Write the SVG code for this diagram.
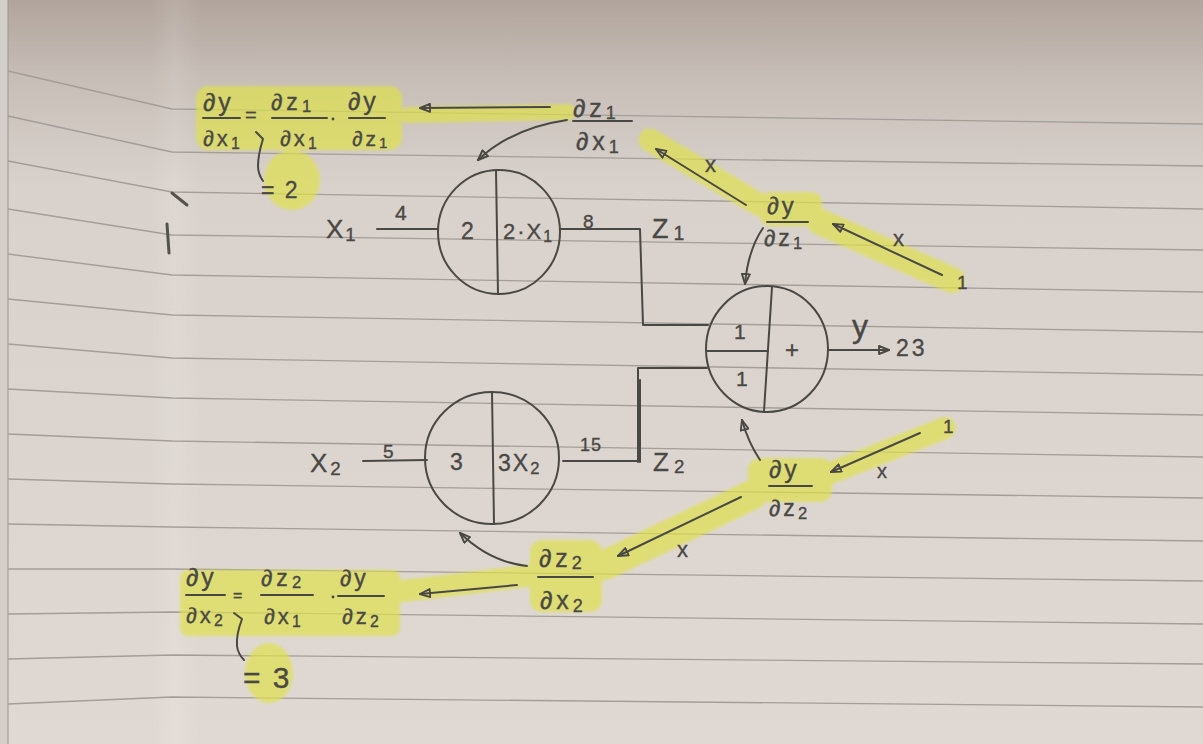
<svg xmlns="http://www.w3.org/2000/svg" width="1203" height="744" viewBox="0 0 1203 744">
<defs>
  <linearGradient id="paper" x1="0" y1="0" x2="0" y2="1">
    <stop offset="0" stop-color="#b1a49c"/>
    <stop offset="0.1" stop-color="#c6bdb6"/>
    <stop offset="0.25" stop-color="#d9d2cc"/>
    <stop offset="1" stop-color="#e0d9d3"/>
  </linearGradient>
  <linearGradient id="fold" x1="0" y1="0" x2="1" y2="0">
    <stop offset="0" stop-color="#ffffff" stop-opacity="0"/>
    <stop offset="0.5" stop-color="#ffffff" stop-opacity="0.1"/>
    <stop offset="1" stop-color="#ffffff" stop-opacity="0"/>
  </linearGradient>
  <filter id="soft" x="-10%" y="-10%" width="120%" height="120%">
    <feGaussianBlur stdDeviation="1.8"/>
  </filter>
  <marker id="tri" viewBox="0 0 12 10" refX="11" refY="5" markerWidth="12" markerHeight="10" markerUnits="userSpaceOnUse" orient="auto">
    <path d="M1,1 L11,5 L1,9 Z" fill="none" stroke="#4a4844" stroke-width="1.9" stroke-linejoin="round"/>
  </marker>
</defs>
<style>
  .t{font-family:"Liberation Sans","DejaVu Sans",sans-serif;fill:#4a4844;stroke:#4a4844;stroke-width:0.35;}
  .ink{fill:none;stroke:#4a4844;stroke-width:2;stroke-linecap:round;stroke-linejoin:round}
  .arr{marker-end:url(#tri)}
  .rule{fill:none;stroke:#a49d98;stroke-width:1.3}
  .hl{fill:none;stroke:#dfe14e;stroke-linecap:round;stroke-linejoin:round}
  .hlf{fill:#dfe14e}
  .sub{font-size:0.72em}
</style>

<!-- paper -->
<g id="paper-bg">
  <rect x="0" y="0" width="1203" height="744" fill="url(#paper)"/>
  <rect x="0" y="0" width="8" height="744" fill="#d3cfcb"/>
  <line x1="8" y1="0" x2="8" y2="744" stroke="#9c9590" stroke-width="1"/>
  <rect x="150" y="0" width="50" height="744" fill="url(#fold)"/>
  <g id="rules">
    <polyline class="rule" points="8,71 172,109 1203,124"/>
    <polyline class="rule" points="8,116 172,152 1203,166"/>
    <polyline class="rule" points="8,161 172,192 1203,209"/>
    <polyline class="rule" points="8,209 172,235 1203,250"/>
    <polyline class="rule" points="8,254 172,275 1203,292"/>
    <polyline class="rule" points="8,299 172,315 1203,332"/>
    <polyline class="rule" points="8,344 172,358 1203,375"/>
    <polyline class="rule" points="8,389 172,398 1203,415"/>
    <polyline class="rule" points="8,434 172,441 1203,457"/>
    <polyline class="rule" points="8,479 172,484 1203,498"/>
    <polyline class="rule" points="8,524 172,527 1203,541"/>
    <polyline class="rule" points="8,569 172,569 1203,581"/>
    <polyline class="rule" points="8,614 172,612 1203,624"/>
    <polyline class="rule" points="8,659 172,655 1203,664"/>
    <polyline class="rule" points="8,704 172,697 1203,707"/>
  </g>
  <path d="M172,193 L187,205" stroke="#55524e" stroke-width="3" stroke-linecap="round" fill="none"/>
  <path d="M167,224 L169,253" stroke="#55524e" stroke-width="3" stroke-linecap="round" fill="none"/>
</g>

<!-- highlighter -->
<g id="highlights" opacity="0.7" filter="url(#soft)">
  <rect class="hlf" x="196" y="86" width="206" height="64" rx="12"/>
  <ellipse class="hlf" cx="292" cy="180" rx="28" ry="30"/>
  <path class="hl" d="M408,115 L568,112" stroke-width="16"/>
  <path class="hl" d="M650,140 L760,205" stroke-width="23"/>
  <rect class="hlf" x="760" y="192" width="62" height="34" rx="10"/>
  <path class="hl" d="M820,222 L952,280" stroke-width="26"/>
  <path class="hl" d="M945,428 L828,474" stroke-width="22"/>
  <rect class="hlf" x="748" y="458" width="84" height="44" rx="12"/>
  <path class="hl" d="M752,495 L605,565" stroke-width="30"/>
  <rect class="hlf" x="530" y="540" width="72" height="72" rx="12"/>
  <path class="hl" d="M535,575 L395,592" stroke-width="22"/>
  <rect class="hlf" x="180" y="570" width="220" height="66" rx="8"/>
  <ellipse class="hlf" cx="269" cy="673" rx="24" ry="30"/>
</g>

<!-- connectors -->
<g id="connectors">
  <path class="ink arr" d="M550,107 L420,108"/>
  <path class="ink arr" d="M567,120 Q512,128 478,160"/>
  <path class="ink arr" d="M746,205 L656,149"/>
  <path class="ink arr" d="M942,275 L833,224"/>
  <path class="ink arr" d="M763,228 Q748,250 745,284"/>
  <path class="ink" d="M377,229 L438,229"/>
  <path class="ink" d="M561,229 L640,229 L643,325 L708,325"/>
  <path class="ink" d="M707,368 L638,368 L638,462"/>
  <path class="ink" d="M563,461 L637,461"/>
  <path class="ink" d="M640,380 L640,462"/>
  <path class="ink" d="M363,461 L427,460"/>
  <path class="ink arr" d="M829,350 L889,350"/>
  <path class="ink arr" d="M760,460 Q748,442 742,420"/>
  <path class="ink arr" d="M920,433 L831,472"/>
  <path class="ink arr" d="M741,497 L618,556"/>
  <path class="ink arr" d="M527,566 Q490,562 460,533"/>
  <path class="ink arr" d="M517,585 L420,594"/>
</g>

<!-- node 1 : 2 * x1 -->
<g id="node-mul1">
  <ellipse class="ink" cx="499" cy="232" rx="61" ry="62"/>
  <path class="ink" d="M496,170 L498,294"/>
  <text class="t" x="461" y="239" font-size="23">2</text>
  <text class="t" x="503" y="239" font-size="22" letter-spacing="2">2·X<tspan class="sub" dy="3">1</tspan></text>
  <text class="t" x="326" y="238" font-size="26" letter-spacing="2">X<tspan class="sub" dy="3">1</tspan></text>
  <text class="t" x="395" y="220" font-size="21">4</text>
  <text class="t" x="583" y="228" font-size="19">8</text>
  <text class="t" x="652" y="238" font-size="27" letter-spacing="5">Z<tspan class="sub" dy="2">1</tspan></text>
</g>

<!-- node 2 : 3 * x2 -->
<g id="node-mul2">
  <ellipse class="ink" cx="492" cy="458" rx="67" ry="66"/>
  <path class="ink" d="M492,392 L494,524"/>
  <text class="t" x="450" y="470" font-size="23">3</text>
  <text class="t" x="498" y="471" font-size="23" letter-spacing="2">3X<tspan class="sub" dy="3">2</tspan></text>
  <text class="t" x="310" y="472" font-size="26" letter-spacing="3">X<tspan class="sub" dy="3">2</tspan></text>
  <text class="t" x="383" y="458" font-size="19">5</text>
  <text class="t" x="580" y="451" font-size="18" letter-spacing="1">15</text>
  <text class="t" x="653" y="471" font-size="26" letter-spacing="5">Z<tspan class="sub" dy="2">2</tspan></text>
</g>

<!-- node 3 : plus -->
<g id="node-plus">
  <ellipse class="ink" cx="767" cy="349" rx="61" ry="63"/>
  <path class="ink" d="M772,287 L764,411"/>
  <path class="ink" d="M707,351 L768,351"/>
  <text class="t" x="734" y="339" font-size="21">1</text>
  <text class="t" x="736" y="386" font-size="21">1</text>
  <text class="t" x="785" y="358" font-size="24">+</text>
  <text class="t" x="852" y="337" font-size="32">y</text>
  <text class="t" x="896" y="356" font-size="23" letter-spacing="3">23</text>
</g>

<!-- gradient dy/dz1 -->
<g id="grad-dy-dz1">
  <text class="t" x="767" y="214" font-size="24" letter-spacing="3">∂y</text>
  <path class="ink" d="M767,222 L808,222"/>
  <text class="t" x="764" y="246" font-size="23" letter-spacing="3">∂z<tspan class="sub" dy="3">1</tspan></text>
  <text class="t" x="957" y="289" font-size="19">1</text>
  <text class="t" x="893" y="246" font-size="22">x</text>
  <text class="t" x="705" y="172" font-size="22">x</text>
</g>

<!-- gradient dz1/dx1 -->
<g id="grad-dz1-dx1">
  <text class="t" x="573" y="117" font-size="25" letter-spacing="4">∂z<tspan class="sub" dy="2">1</tspan></text>
  <path class="ink" d="M573,121 L632,121"/>
  <text class="t" x="576" y="150" font-size="25" letter-spacing="4">∂x<tspan class="sub" dy="3">1</tspan></text>
</g>

<!-- equation dy/dx1 -->
<g id="eq-dy-dx1">
  <text class="t" x="203" y="111" font-size="25" letter-spacing="3">∂y</text>
  <path class="ink" d="M203,118 L240,118"/>
  <text class="t" x="203" y="146" font-size="22" letter-spacing="3">∂x<tspan class="sub" dy="3">1</tspan></text>
  <text class="t" x="245" y="122" font-size="20">=</text>
  <text class="t" x="271" y="110" font-size="23" letter-spacing="4">∂z<tspan class="sub" dy="2">1</tspan></text>
  <path class="ink" d="M272,118 L327,118"/>
  <text class="t" x="280" y="146" font-size="22" letter-spacing="3">∂x<tspan class="sub" dy="3">1</tspan></text>
  <circle cx="333" cy="119" r="1.4" fill="#4a4844"/>
  <text class="t" x="348" y="110" font-size="25" letter-spacing="3">∂y</text>
  <path class="ink" d="M349,118 L385,118"/>
  <text class="t" x="352" y="146" font-size="21" letter-spacing="3">∂z<tspan class="sub" dy="2">1</tspan></text>
  <path class="ink" d="M256,132 L263,139 Q258,155 258,166 Q258,174 263,181"/>
  <text class="t" x="261" y="198" font-size="23" letter-spacing="2">= 2</text>
</g>

<!-- gradient dy/dz2 -->
<g id="grad-dy-dz2">
  <text class="t" x="769" y="478" font-size="25" letter-spacing="3">∂y</text>
  <path class="ink" d="M769,486 L812,486"/>
  <text class="t" x="769" y="516" font-size="23" letter-spacing="3">∂z<tspan class="sub" dy="3">2</tspan></text>
  <text class="t" x="943" y="433" font-size="19">1</text>
  <text class="t" x="877" y="478" font-size="20">x</text>
  <text class="t" x="677" y="557" font-size="22">x</text>
</g>

<!-- gradient dz2/dx2 -->
<g id="grad-dz2-dx2">
  <text class="t" x="539" y="567" font-size="25" letter-spacing="4">∂z<tspan class="sub" dy="2">2</tspan></text>
  <path class="ink" d="M538,577 L593,577"/>
  <text class="t" x="540" y="609" font-size="25" letter-spacing="4">∂x<tspan class="sub" dy="3">2</tspan></text>
</g>

<!-- equation dy/dx2 -->
<g id="eq-dy-dx2">
  <text class="t" x="186" y="586" font-size="25" letter-spacing="3">∂y</text>
  <path class="ink" d="M186,595 L225,595"/>
  <text class="t" x="186" y="623" font-size="22" letter-spacing="3">∂x<tspan class="sub" dy="3">2</tspan></text>
  <text class="t" x="233" y="601" font-size="16">=</text>
  <text class="t" x="261" y="586" font-size="23" letter-spacing="4">∂z<tspan class="sub" dy="2">2</tspan></text>
  <path class="ink" d="M261,595 L313,595"/>
  <text class="t" x="264" y="624" font-size="22" letter-spacing="3">∂x<tspan class="sub" dy="3">1</tspan></text>
  <circle cx="333" cy="597" r="1.4" fill="#4a4844"/>
  <text class="t" x="340" y="586" font-size="23" letter-spacing="3">∂y</text>
  <path class="ink" d="M338,596 L384,596"/>
  <text class="t" x="342" y="624" font-size="22" letter-spacing="3">∂z<tspan class="sub" dy="3">2</tspan></text>
  <path class="ink" d="M234,613 L242,619 Q236,635 237,646 Q238,654 244,660"/>
  <text class="t" x="243" y="688" font-size="30" letter-spacing="2">= 3</text>
</g>
</svg>
